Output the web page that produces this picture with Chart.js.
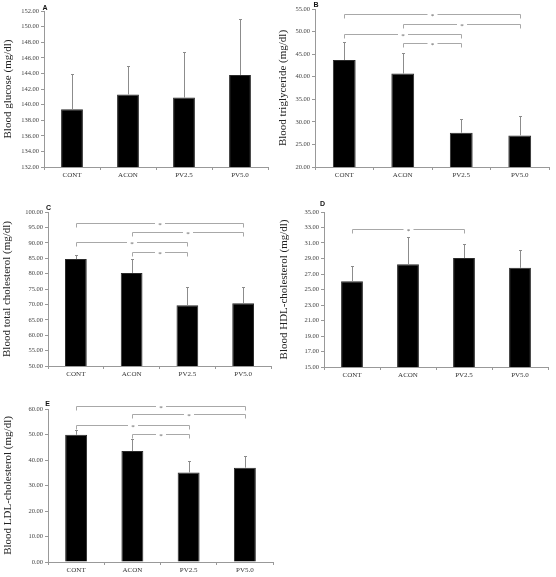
<!DOCTYPE html>
<html>
<head>
<meta charset="utf-8">
<script src="https://cdn.jsdelivr.net/npm/chart.js@4.4.1/dist/chart.umd.min.js"></script>
<style>
html, body { margin: 0; padding: 0; background: #fff; }
#wrap { position: relative; width: 556px; height: 577px; }
canvas { position: absolute; }
</style>
</head>
<body>
<div id="wrap">
  <canvas id="chartA"></canvas>
  <canvas id="chartB"></canvas>
  <canvas id="chartC"></canvas>
  <canvas id="chartD"></canvas>
  <canvas id="chartE"></canvas>
</div>
<script>
var GROUPS = ['CONT', 'ACON', 'PV2.5', 'PV5.0'];

// means and top of the error bar (mean + SD), mg/dl
var GLUCOSE = [139.4, 141.3, 140.9, 143.8];
var GLUCOSE_TOP = [143.9, 145.0, 146.8, 151.0];

var TG = [43.7, 40.7, 27.6, 27.0];
var TG_TOP = [47.8, 45.3, 30.6, 31.3];

var TC = [84.7, 80.2, 69.7, 70.4];
var TC_TOP = [86.1, 84.9, 75.5, 75.6];

var HDL = [26.05, 28.25, 29.06, 27.8];
var HDL_TOP = [28.0, 31.8, 30.9, 30.05];

var LDL = [49.9, 43.5, 35.1, 37.0];
var LDL_TOP = [51.6, 48.1, 39.5, 41.6];

// significance brackets: [from group, to group, level]
var TG_SIG = [[0, 3, 53.9], [1, 3, 51.7], [0, 2, 49.5], [1, 2, 47.4]];
var TC_SIG = [[0, 3, 96.4], [1, 3, 93.4], [0, 2, 90.2], [1, 2, 87.1]];
var HDL_SIG = [[0, 2, 32.85]];
var LDL_SIG = [[0, 3, 61.0], [1, 3, 57.9], [0, 2, 53.6], [1, 2, 50.1]];

// y axis ranges: [min, max, step]
var GLUCOSE_AXIS = [132, 152, 2];
var TG_AXIS = [20, 55, 5];
var TC_AXIS = [50, 100, 5];
var HDL_AXIS = [15, 35, 2];
var LDL_AXIS = [0, 60, 10];

var SERIF = '"Liberation Serif", "Times New Roman", serif';

// canvas box, plot box and label spots, in page pixels
var panels = [
  { id: 'chartA', letter: 'A', title: 'Blood glucose (mg/dl)', values: GLUCOSE, tops: GLUCOSE_TOP, sig: [], axis: GLUCOSE_AXIS,
    box: [0, 0, 278, 190], area: [44, 11, 268, 167], titleX: 8.5, letterAt: [45, 9.5] },
  { id: 'chartB', letter: 'B', title: 'Blood triglyceride (mg/dl)', values: TG, tops: TG_TOP, sig: TG_SIG, axis: TG_AXIS,
    box: [278, 0, 278, 190], area: [315, 9, 549, 167], titleX: 283.5, letterAt: [316, 6.5] },
  { id: 'chartC', letter: 'C', title: 'Blood total cholesterol (mg/dl)', values: TC, tops: TC_TOP, sig: TC_SIG, axis: TC_AXIS,
    box: [0, 190, 278, 190], area: [48, 212, 271, 366], titleX: 7.5, letterAt: [48.5, 209.5] },
  { id: 'chartD', letter: 'D', title: 'Blood HDL-cholesterol (mg/dl)', values: HDL, tops: HDL_TOP, sig: HDL_SIG, axis: HDL_AXIS,
    box: [278, 190, 278, 190], area: [324, 212, 548, 367], titleX: 284, letterAt: [322.5, 206] },
  { id: 'chartE', letter: 'E', title: 'Blood LDL-cholesterol (mg/dl)', values: LDL, tops: LDL_TOP, sig: LDL_SIG, axis: LDL_AXIS,
    box: [0, 380, 278, 197], area: [48, 409, 273, 562], titleX: 8, letterAt: [47.5, 405.5] }
];

// error bars, brackets and the panel letter
function makeMarks(p) {
  return {
    id: 'marks',
    afterDatasetsDraw: function(chart) {
      var ctx = chart.ctx, xs = chart.scales.x, ys = chart.scales.y;
      var meta = chart.getDatasetMeta(0);
      ctx.save();
      ctx.lineWidth = 1;
      ctx.strokeStyle = '#8c8c8c';
      meta.data.forEach(function(bar, i) {
        var x = Math.round(bar.x) + 0.5;
        var top = Math.round(ys.getPixelForValue(p.tops[i])) + 0.5;
        ctx.beginPath();
        ctx.moveTo(x, bar.y);
        ctx.lineTo(x, top);
        ctx.moveTo(x - 1.5, top);
        ctx.lineTo(x + 1.5, top);
        ctx.stroke();
      });

      ctx.strokeStyle = '#a8a8a8';
      ctx.fillStyle = '#555';
      ctx.font = '7px ' + SERIF;
      ctx.textAlign = 'center';
      ctx.textBaseline = 'middle';
      p.sig.forEach(function(s) {
        var xa = Math.round(xs.getPixelForValue(s[0])) + 0.5;
        var xb = Math.round(xs.getPixelForValue(s[1])) + 0.5;
        var y = Math.round(ys.getPixelForValue(s[2])) + 0.5;
        var mid = (xa + xb) / 2;
        ctx.beginPath();
        ctx.moveTo(xa, y + 4);
        ctx.lineTo(xa, y);
        ctx.lineTo(mid - 5, y);
        ctx.moveTo(mid + 5, y);
        ctx.lineTo(xb, y);
        ctx.lineTo(xb, y + 4);
        ctx.stroke();
        ctx.fillText('*', mid, y + 1.5);
      });

      var left = p.box[0], top0 = p.box[1];
      ctx.fillStyle = '#111';
      ctx.font = 'bold 7px "Liberation Sans", Arial, sans-serif';
      ctx.textBaseline = 'alphabetic';
      ctx.fillText(p.letter, p.letterAt[0] - left, p.letterAt[1] - top0);
      ctx.restore();
    }
  };
}

panels.forEach(function(p) {
  var cv = document.getElementById(p.id);
  var left = p.box[0], top = p.box[1], w = p.box[2], h = p.box[3];
  cv.width = w;
  cv.height = h;
  cv.style.left = left + 'px';
  cv.style.top = top + 'px';
  cv.style.width = w + 'px';
  cv.style.height = h + 'px';

  var yWidth = p.area[0] - left;
  var xHeight = top + h - p.area[3];
  var titleSize = 11;

  new Chart(cv.getContext('2d'), {
    type: 'bar',
    data: {
      labels: GROUPS,
      datasets: [{
        data: p.values,
        backgroundColor: '#000',
        borderColor: '#2a2a2a',
        borderWidth: 1,
        barPercentage: 0.39,
        categoryPercentage: 1
      }]
    },
    options: {
      responsive: false,
      animation: false,
      devicePixelRatio: 1,
      layout: {
        padding: { left: 0, bottom: 0, top: p.area[1] - top, right: left + w - p.area[2] }
      },
      plugins: {
        legend: { display: false },
        tooltip: { enabled: false }
      },
      scales: {
        x: {
          grid: { drawOnChartArea: false, tickLength: 3, color: '#999' },
          border: { color: '#999' },
          ticks: { color: '#333', padding: 1, font: { family: SERIF, size: 7 } },
          afterFit: function(s) {
            s.height = xHeight;
            s.paddingLeft = 0; s.paddingRight = 0;
          }
        },
        y: {
          min: p.axis[0],
          max: p.axis[1],
          grid: { drawOnChartArea: false, tickLength: 3, color: '#999' },
          border: { color: '#999' },
          ticks: {
            stepSize: p.axis[2],
            color: '#444',
            padding: 2,
            font: { family: SERIF, size: 6.5 },
            callback: function(v) { return v.toFixed(2); }
          },
          title: {
            display: true,
            text: p.title,
            color: '#222',
            font: { family: SERIF, size: titleSize, lineHeight: 1 },
            padding: { top: p.titleX - left - titleSize / 2, bottom: 0 }
          },
          afterFit: function(s) {
            s.width = yWidth;
            s.paddingTop = 0; s.paddingBottom = 0;
          }
        }
      }
    },
    plugins: [makeMarks(p)]
  });
});
</script>
</body>
</html>
